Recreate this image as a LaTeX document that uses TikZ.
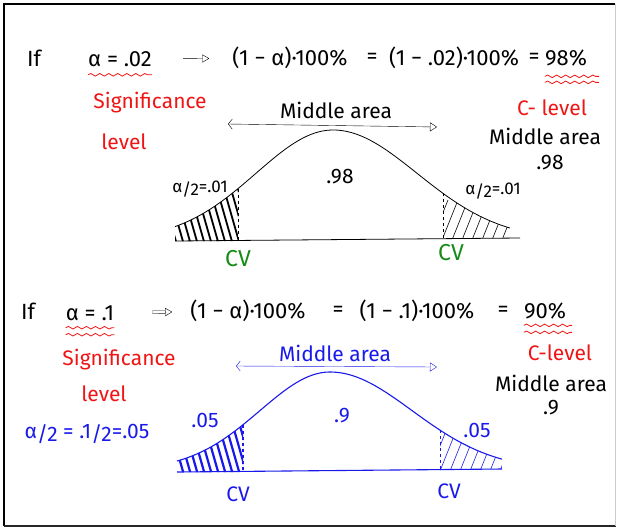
\documentclass[tikz,border=0pt]{standalone}
\usepackage{fontspec}
\setmainfont{Fira Sans}
\usetikzlibrary{arrows.meta, positioning, decorations.pathmorphing}
\definecolor{penred}{RGB}{240,20,20}
\definecolor{pengreen}{RGB}{20,140,20}
\definecolor{penblue}{RGB}{25,25,235}
\tikzset{declare function={
  topbell(\x)=240-110*exp(-0.5*((\x-333)/((\x<333)*77+(\x>=333)*84))^2);
  lowbell(\x)=470-98*exp(-0.5*((\x-330)/((\x<330)*70+(\x>=330)*82))^2);
}}

\begin{document}
\begin{tikzpicture}[x=1pt, y=-1pt,
    eqtext/.style={inner sep=0pt, font=\fontsize{22}{24}\selectfont},
    redlabel/.style={inner sep=0pt, text=penred, font=\fontsize{21}{23}\selectfont},
    blacklabel/.style={inner sep=0pt, font=\fontsize{21}{23}\selectfont},
    bluelabel/.style={inner sep=0pt, text=penblue, font=\fontsize{21}{23}\selectfont},
    greenlabel/.style={inner sep=0pt, text=pengreen, font=\fontsize{23}{25}\selectfont},
    taillabel/.style={inner sep=0pt, font=\fontsize{17}{19}\selectfont},
    wave/.style={penred, thick, decorate, decoration={snake, amplitude=1.3pt, segment length=9pt}},
    arrow/.style={-{Triangle[open, length=7pt, width=8pt]}, thin},
    dline/.style={double, double distance=2.2pt, thin},
    spanarrow/.style={{Straight Barb[length=4pt, width=10pt]}-{Triangle[open, length=7pt, width=9pt]}, thin},
    curve/.style={line width=0.8pt},
    cvdash/.style={dashed, line width=1pt},
    hatchthick/.style={line width=1.8pt},
    hatchthin/.style={line width=0.6pt},
]
    \useasboundingbox (0,0) rectangle (617,528);

    % Frame
    \draw[line width=2.5pt] (4,526) -- (4,4) -- (615,4);
    \draw[line width=2pt, black!85] (4,526) -- (616,526);
    \draw[gray!40, line width=1pt] (615,4) -- (615,526);

    % First example: alpha = .02
    \node[eqtext] (if1) at (34,58) {If};
    \node[eqtext] (alpha1) at (120,59) {α = .02};
    \node[eqtext] (lhs1) at (290,58) {(1 − α)·100\%};
    \node[eqtext] (eq1a) at (372,58) {=};
    \node[eqtext] (mid1) at (454,58) {(1 − .02)·100\%};
    \node[eqtext] (eq1b) at (534,58) {=};
    \node[eqtext] (res1) at (566,58) {98\%};
    \draw[arrow, shorten <=31pt, shorten >=23pt] (alpha1) -- (lhs1);
    \draw[wave] ([yshift=-8pt]alpha1.south west) -- ([yshift=-8pt]alpha1.south east);
    \draw[wave] ([yshift=-10pt]res1.south west) -- ([yshift=-10pt,xshift=12pt]res1.south east);
    \draw[wave] ([yshift=-16pt]res1.south west) -- ([yshift=-16pt,xshift=12pt]res1.south east);

    \node[redlabel] (sig1) at (150,103) {Significance};
    \node[redlabel] (lev1) at (124,142) {level};
    \node[redlabel] (clev1) at (552,108) {C- level};
    \node[blacklabel] (area1) at (545,136) {Middle area};
    \node[blacklabel] (val1) at (550,163) {.98};

    \node[blacklabel] (span1) at (336,110) {Middle area};
    \coordinate (spanL1) at (228,124);
    \coordinate (spanR1) at (437,127);
    \draw[spanarrow] (spanL1) -- (spanR1);

    % First bell curve
    \coordinate (base1L) at (175,241);
    \coordinate (base1R) at (520,238);
    \draw[curve] (base1L) -- (base1R);
    \draw[curve] plot[domain=175:510, samples=80] (\x,{topbell(\x)});
    \begin{scope}
        \clip plot[domain=175:238, samples=20] (\x,{topbell(\x)}) -- (238,241) -- (175,241) -- cycle;
        \foreach \h in {150,157,...,240}
            \draw[hatchthick] (\h,175) -- ++(20,70);
    \end{scope}
    \begin{scope}
        \clip plot[domain=443:510, samples=20] (\x,{topbell(\x)}) -- (510,238) -- (443,239) -- cycle;
        \foreach \h in {430,440,...,520}
            \draw[hatchthin] (\h,245) -- ++(18,-45);
    \end{scope}
    \draw[cvdash] (238,{topbell(238)}) -- (238,241);
    \draw[cvdash, line width=0.7pt] (443,{topbell(443)}) -- (443,239);

    \node[blacklabel] (ctr1) at (340,177) {.98};
    \node[taillabel] (tailL1) at (200,189) {α\raisebox{-3pt}{/2}=.01};
    \node[taillabel] (tailR1) at (493,191) {α\raisebox{-3pt}{/2}=.01};
    \node[greenlabel] (cvL1) at (238,259) {CV};
    \node[greenlabel] (cvR1) at (451,253) {CV};

    % Second example: alpha = .1
    \node[eqtext] (if2) at (28,311) {If};
    \node[eqtext] (alpha2) at (90,313) {α = .1};
    \node[eqtext] (lhs2) at (248,311) {(1 − α)·100\%};
    \node[eqtext] (eq2a) at (338,311) {=};
    \node[eqtext] (mid2) at (417,311) {(1 − .1)·100\%};
    \node[eqtext] (eq2b) at (503,311) {=};
    \node[eqtext] (res2) at (545,311) {90\%};
    \draw[dline, shorten <=38pt, shorten >=25pt] (alpha2) -- (lhs2);
    \draw[arrow, shorten <=52pt, shorten >=18pt] (alpha2) -- (lhs2);
    \draw[wave] ([yshift=-7pt]alpha2.south west) -- ([yshift=-7pt]alpha2.south east);
    \draw[wave] ([yshift=-14pt]alpha2.south west) -- ([yshift=-14pt]alpha2.south east);
    \draw[wave] ([yshift=-6pt]res2.south west) -- ([yshift=-6pt,xshift=6pt]res2.south east);
    \draw[wave] ([yshift=-13pt]res2.south west) -- ([yshift=-13pt,xshift=6pt]res2.south east);

    \node[redlabel] (sig2) at (119,360) {Significance};
    \node[redlabel] (lev2) at (104,394) {level};
    \node[bluelabel] (half2) at (87,434) {α\raisebox{-3pt}{/2} = .1\raisebox{-3pt}{/2}=.05};
    \node[redlabel] (clev2) at (560,353) {C-level};
    \node[blacklabel] (area2) at (551,383) {Middle area};
    \node[blacklabel] (val2) at (551,408) {.9};

    \node[bluelabel] (span2) at (335,353) {Middle area};
    \coordinate (spanL2) at (236,366);
    \coordinate (spanR2) at (437,367);
    \draw[spanarrow, penblue] (spanL2) -- (spanR2);

    % Second bell curve
    \coordinate (base2L) at (177,472);
    \coordinate (base2R) at (502,469);
    \draw[curve, penblue, line width=1.1pt] (base2L) -- (base2R);
    \draw[curve, penblue, line width=1.1pt] plot[domain=177:502, samples=80] (\x,{lowbell(\x)});
    \begin{scope}
        \clip plot[domain=177:243, samples=20] (\x,{lowbell(\x)}) -- (243,472) -- (177,472) -- cycle;
        \foreach \h in {150,157,...,245}
            \draw[hatchthick, penblue, line width=2.2pt] (\h,405) -- ++(20,70);
    \end{scope}
    \begin{scope}
        \clip plot[domain=440:502, samples=20] (\x,{lowbell(\x)}) -- (502,469) -- (440,470) -- cycle;
        \foreach \h in {428,438,...,512}
            \draw[hatchthin, penblue] (\h,476) -- ++(18,-45);
    \end{scope}
    \draw[cvdash, penblue, line width=1.5pt] (243,{lowbell(243)}) -- (243,471);
    \draw[cvdash, penblue] (440,{lowbell(440)}) -- (440,470);

    \node[bluelabel] (ctr2) at (342,416) {.9};
    \node[bluelabel] (tailL2) at (205,420) {.05};
    \node[bluelabel] (tailR2) at (477,430) {.05};
    \node[bluelabel] (cvL2) at (238,494) {CV};
    \node[bluelabel] (cvR2) at (449,491) {CV};
\end{tikzpicture}
\end{document}
